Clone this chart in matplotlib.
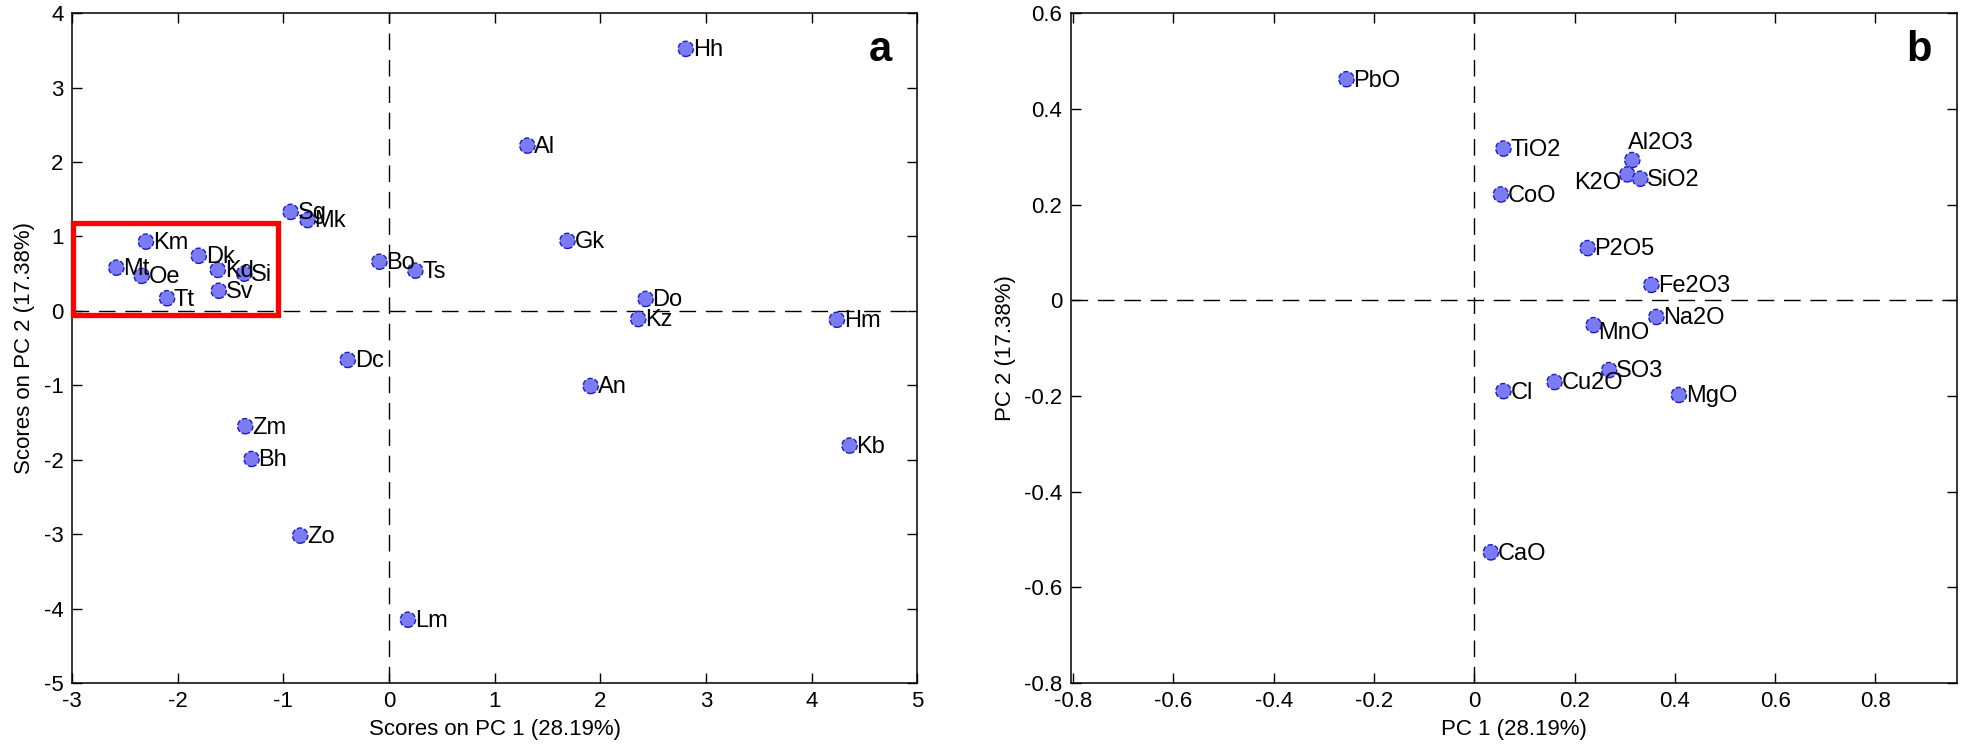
# PCA score and loading plots (panels a and b)
import matplotlib
matplotlib.use('Agg')
import matplotlib.pyplot as plt
from matplotlib.patches import Rectangle

plt.rcParams['font.family'] = ['Liberation Sans', 'DejaVu Sans']
plt.rcParams['axes.unicode_minus'] = False

# scores (panel a)
sites = ['Hh', 'Al', 'Sg', 'Mk', 'Km', 'Dk', 'Mt', 'Oe', 'Kd', 'Si', 'Sv', 'Tt',
         'Bo', 'Ts', 'Gk', 'Do', 'Kz', 'Hm', 'An', 'Dc', 'Zm', 'Bh', 'Zo', 'Lm', 'Kb']
pc1_scores = [2.81, 1.31, -0.93, -0.77, -2.30, -1.80, -2.58, -2.34, -1.62, -1.37, -1.61, -2.10,
              -0.09, 0.25, 1.69, 2.43, 2.36, 4.24, 1.91, -0.39, -1.36, -1.30, -0.84, 0.18, 4.36]
pc2_scores = [3.52, 2.22, 1.33, 1.22, 0.93, 0.74, 0.58, 0.47, 0.55, 0.50, 0.27, 0.17,
              0.66, 0.54, 0.94, 0.16, -0.11, -0.12, -1.01, -0.66, -1.55, -1.99, -3.02, -4.15, -1.81]

# loadings (panel b)
oxides = ['PbO', 'TiO2', 'CoO', 'Al2O3', 'K2O', 'SiO2', 'P2O5', 'Fe2O3', 'MnO', 'Na2O',
          'SO3', 'Cl', 'Cu2O', 'MgO', 'CaO']
pc1_load = [-0.255, 0.058, 0.053, 0.315, 0.305, 0.331, 0.226, 0.353, 0.238, 0.363,
            0.269, 0.058, 0.160, 0.408, 0.033]
pc2_load = [0.462, 0.317, 0.221, 0.293, 0.263, 0.254, 0.109, 0.032, -0.052, -0.035,
            -0.146, -0.190, -0.171, -0.198, -0.527]

face = '#7b7bf2'
edge = '#1c1cc8'

fig = plt.figure(figsize=(19.61, 7.56), dpi=100)
ax1 = fig.add_axes([0.0367, 0.0966, 0.431, 0.886])
ax2 = fig.add_axes([0.546, 0.0966, 0.4518, 0.886])


def style(ax):
    ax.tick_params(direction='in', top=True, right=True, length=7, width=1,
                   labelsize=16, pad=6)
    for s in ax.spines.values():
        s.set_linewidth(1.1)
    ax.axhline(0, color='black', lw=1, ls=(0, (12, 7)), zorder=1)
    ax.axvline(0, color='black', lw=1, ls=(0, (12, 7)), zorder=1)


# panel a
style(ax1)
ax1.scatter(pc1_scores, pc2_scores, s=120, c=face, edgecolors=edge,
            linewidths=1.0, linestyle='--', zorder=3)
for name, x, y in zip(sites, pc1_scores, pc2_scores):
    ax1.annotate(name, (x, y), xytext=(5, -1), textcoords='offset points',
                 ha='left', va='center', fontsize=17, zorder=4)
ax1.add_patch(Rectangle((-2.99, -0.05), 1.94, 1.23, fill=False, ec='#ff0000',
                        lw=3.8, zorder=5, clip_on=False))
ax1.set_xlim(-3, 5)
ax1.set_ylim(-5, 4)
ax1.set_xticks(range(-3, 6))
ax1.set_yticks(range(-5, 5))
ax1.set_xlabel('Scores on PC 1 (28.19%)', fontsize=16, labelpad=5)
ax1.set_ylabel('Scores on PC 2 (17.38%)', fontsize=16, labelpad=6)
ax1.text(0.957, 0.945, 'a', transform=ax1.transAxes, fontsize=30,
         fontweight='bold', ha='center', va='center')

# panel b
style(ax2)
ax2.scatter(pc1_load, pc2_load, s=120, c=face, edgecolors=edge,
            linewidths=1.0, linestyle='--', zorder=3)
for name, x, y in zip(oxides, pc1_load, pc2_load):
    if name == 'K2O':
        ax2.annotate(name, (x, y), xytext=(-4, -6), textcoords='offset points',
                     ha='right', va='center', fontsize=17, zorder=4)
    elif name == 'Al2O3':
        ax2.annotate(name, (x, y), xytext=(-3, 12), textcoords='offset points',
                     ha='left', va='center', fontsize=17, zorder=4)
    elif name == 'MnO':
        ax2.annotate(name, (x, y), xytext=(3, -6), textcoords='offset points',
                     ha='left', va='center', fontsize=17, zorder=4)
    else:
        ax2.annotate(name, (x, y), xytext=(5, -1), textcoords='offset points',
                     ha='left', va='center', fontsize=17, zorder=4)
ax2.set_xlim(-0.805, 0.962)
ax2.set_ylim(-0.8, 0.6)
ax2.set_xticks([-0.8, -0.6, -0.4, -0.2, 0, 0.2, 0.4, 0.6, 0.8])
ax2.set_xticklabels(['-0.8', '-0.6', '-0.4', '-0.2', '0', '0.2', '0.4', '0.6', '0.8'])
ax2.set_yticks([-0.8, -0.6, -0.4, -0.2, 0, 0.2, 0.4, 0.6])
ax2.set_yticklabels(['-0.8', '-0.6', '-0.4', '-0.2', '0', '0.2', '0.4', '0.6'])
ax2.set_xlabel('PC 1 (28.19%)', fontsize=16, labelpad=5)
ax2.set_ylabel('PC 2 (17.38%)', fontsize=16, labelpad=6)
ax2.text(0.957, 0.945, 'b', transform=ax2.transAxes, fontsize=30,
         fontweight='bold', ha='center', va='center')

fig.savefig('out.png', dpi=100)
